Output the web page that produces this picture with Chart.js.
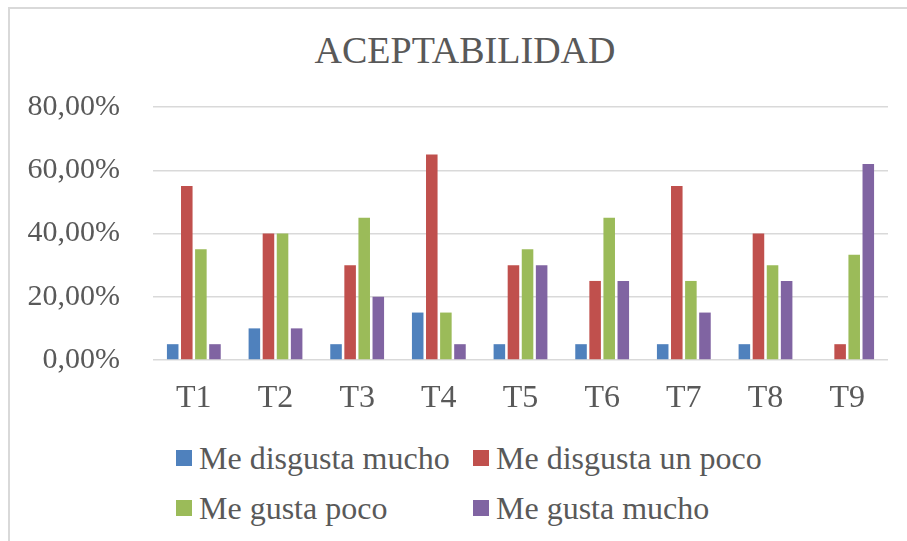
<!DOCTYPE html>
<html>
<head>
<meta charset="utf-8">
<script src="https://cdn.jsdelivr.net/npm/chart.js@4"></script>
<style>
  body { margin: 0; background: #fff; }
  #frame { position: absolute; left: 8px; top: 7px; width: 899px; height: 534px;
           border-left: 2px solid #d9d9d9; border-top: 2px solid #d9d9d9; }
  #wrap { position: absolute; left: 0; top: 0; width: 907px; height: 430px; }
  #titulo { position: absolute; left: 23px; top: 27px; width: 884px; text-align: center;
            font-family: "Liberation Serif", "Times New Roman", serif; font-size: 38px;
            line-height: 46px; color: #595959; }
  #legend { position: absolute; left: 176px; top: 440px; display: grid;
            grid-template-columns: 297px 300px; row-gap: 14px;
            font-family: "Liberation Serif", "Times New Roman", serif; font-size: 32px; color: #595959; }
  #legend div { display: flex; align-items: center; height: 36px; white-space: nowrap; }
  #legend span.box { display: inline-block; width: 16px; height: 16px; margin-right: 7px; }
</style>
</head>
<body>
<div id="frame"></div>
<div id="titulo">ACEPTABILIDAD</div>
<div id="wrap"><canvas id="aceptChart"></canvas></div>
<div id="legend"></div>
<script>
// datos de la grafica (porcentajes)
var categorias = ['T1', 'T2', 'T3', 'T4', 'T5', 'T6', 'T7', 'T8', 'T9'];
var meDisgustaMucho = [5, 10, 5, 15, 5, 5, 5, 5, 0];
var meDisgustaUnPoco = [55, 40, 30, 65, 30, 25, 55, 40, 5];
var meGustaPoco = [35, 40, 45, 15, 35, 45, 25, 30, 33.3];
var meGustaMucho = [5, 10, 20, 5, 30, 25, 15, 25, 62];
var ticksY = [0, 20, 40, 60, 80];

var serie = [
    { label: 'Me disgusta mucho', data: meDisgustaMucho, color: '#4F81BD' },
    { label: 'Me disgusta un poco', data: meDisgustaUnPoco, color: '#C0504D' },
    { label: 'Me gusta poco', data: meGustaPoco, color: '#9BBB59' },
    { label: 'Me gusta mucho', data: meGustaMucho, color: '#8064A2' }
];

var fuente = '"Liberation Serif", "Times New Roman", serif';
var gris = '#595959';

var ctx = document.getElementById('aceptChart').getContext('2d');
var chart = new Chart(ctx, {
    type: 'bar',
    data: {
        labels: categorias,
        datasets: serie.map(function (s) {
            return {
                label: s.label,
                data: s.data,
                backgroundColor: s.color,
                categoryPercentage: 0.69,
                barPercentage: 0.82
            };
        })
    },
    options: {
        responsive: true,
        maintainAspectRatio: false,
        animation: false,
        layout: { padding: { left: 0, right: 19, top: 107, bottom: 14 } },
        plugins: {
            legend: { display: false },
            tooltip: { enabled: false },
            title: { display: false }
        },
        scales: {
            x: {
                afterFit: function (s) { s.height = 56; },
                grid: { display: false, drawTicks: false },
                border: { display: false },
                ticks: { color: gris, font: { family: fuente, size: 32 }, padding: 19 }
            },
            y: {
                min: 0,
                max: 80,
                afterBuildTicks: function (s) {
                    s.ticks = ticksY.map(function (v) { return { value: v }; });
                },
                afterFit: function (s) { s.width = 153; },
                grid: { color: '#d9d9d9', lineWidth: 1.5, drawTicks: false },
                border: { display: false },
                ticks: {
                    color: gris,
                    font: { family: fuente, size: 30 },
                    padding: 33,
                    callback: function (v) { return v.toFixed(2).replace('.', ',') + '%'; }
                }
            }
        }
    }
});

// leyenda en dos columnas como en Excel
var leg = document.getElementById('legend');
serie.forEach(function (s) {
    var d = document.createElement('div');
    d.innerHTML = '<span class="box" style="background:' + s.color + '"></span>' + s.label;
    leg.appendChild(d);
});
</script>
</body>
</html>
